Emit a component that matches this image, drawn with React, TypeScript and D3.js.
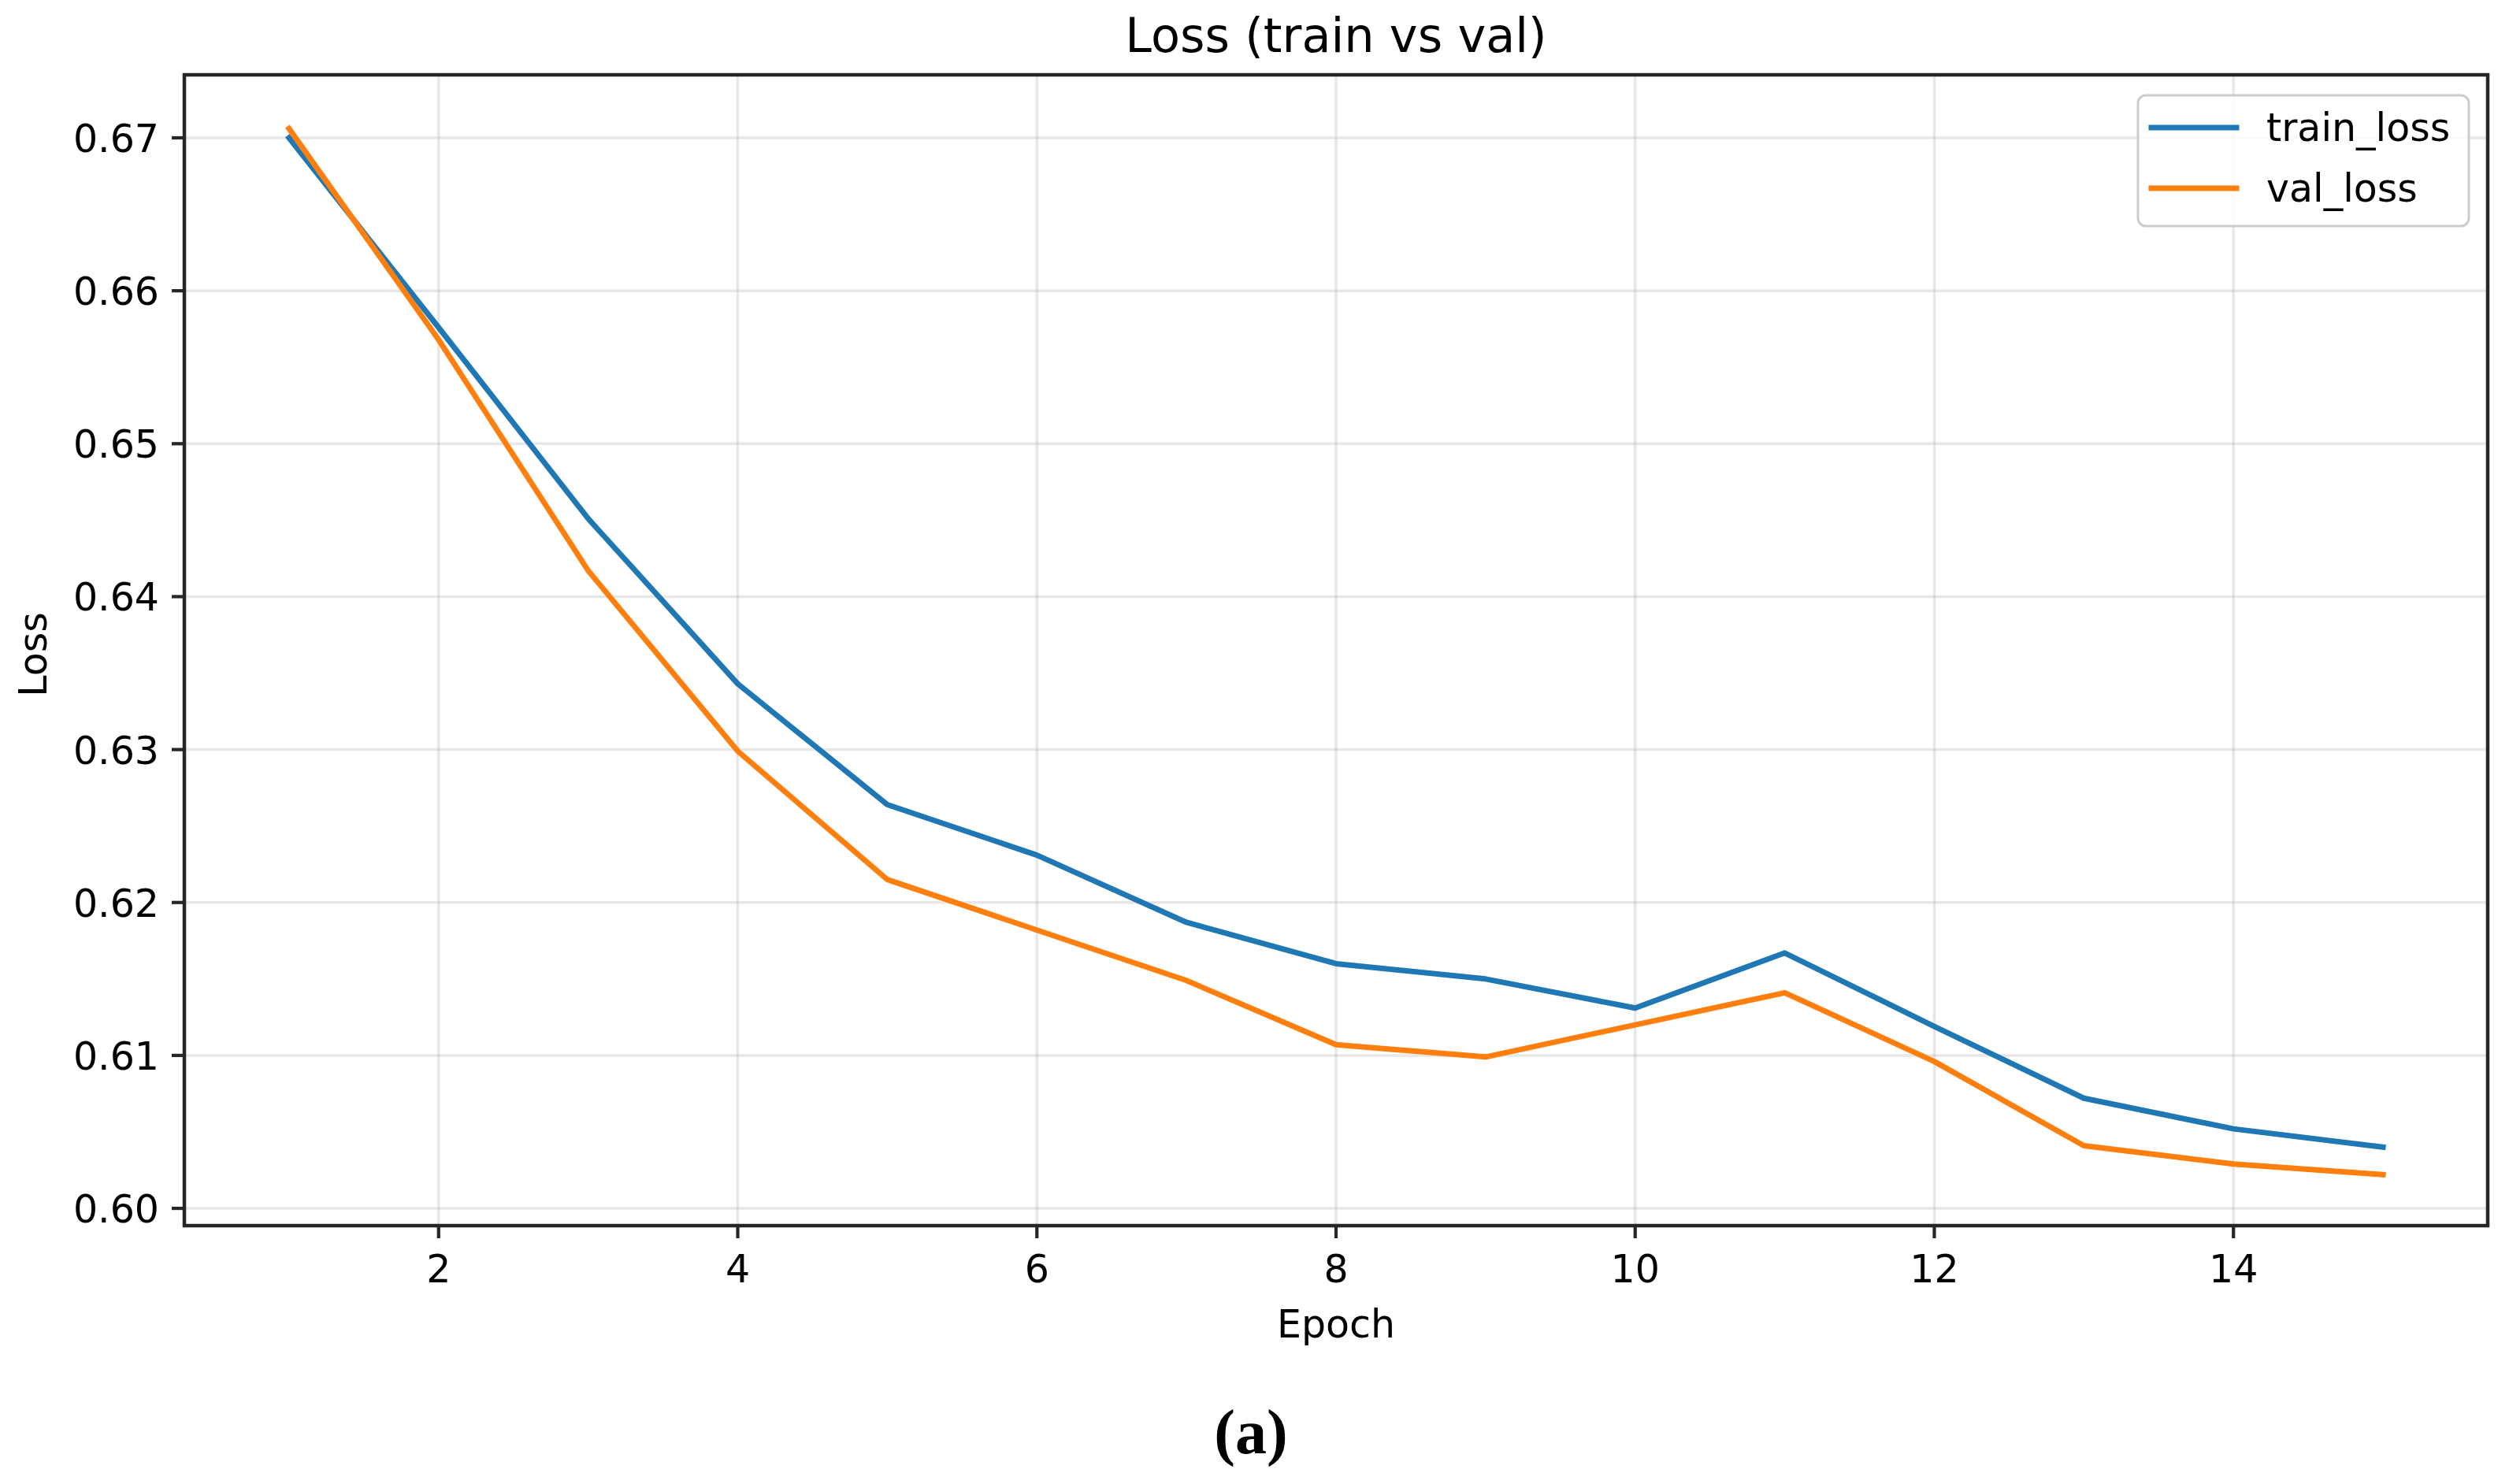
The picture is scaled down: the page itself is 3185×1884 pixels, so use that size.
import React from "react";
import * as d3 from "d3";

const epochs = [1, 2, 3, 4, 5, 6, 7, 8, 9, 10, 11, 12, 13, 14, 15];
const trainLoss = [0.6700, 0.6576, 0.6451, 0.6343, 0.6264, 0.6231, 0.6187, 0.6160, 0.6150, 0.6131, 0.6167, 0.6119, 0.6072, 0.6052, 0.6040];
const valLoss = [0.6706, 0.6568, 0.6417, 0.6299, 0.6215, 0.6182, 0.6149, 0.6107, 0.6099, 0.6120, 0.6141, 0.6096, 0.6041, 0.6029, 0.6022];
const xTicks = [2, 4, 6, 8, 10, 12, 14];
const yTicks = [0.60, 0.61, 0.62, 0.63, 0.64, 0.65, 0.66, 0.67];
const seriesNames = ["train_loss", "val_loss"];
const seriesColors = ["#1f77b4", "#ff7f0e"];
const titleText = "Loss (train vs val)";
const xLabel = "Epoch";
const yLabel = "Loss";
const caption = "(a)";

const W = 3185;
const H = 1884;
const left = 234, right = 3158, top = 95, bottom = 1556;
const FONT = "'DejaVu Sans', sans-serif";
const SPINE = "#262626";

export default function App() {
  const x = d3.scaleLinear().domain([0.3, 15.7]).range([left, right]);
  const y = d3.scaleLinear().domain([0.59887, 0.67412]).range([bottom, top]);
  const line = d3
    .line<[number, number]>()
    .x((d) => x(d[0]))
    .y((d) => y(d[1]));
  const series = [trainLoss, valLoss];
  const tickLen = 16;
  const legendX = 2714, legendY = 121, legendW = 420, legendH = 166;

  return (
    <svg
      width={W}
      height={H}
      viewBox={`0 0 ${W} ${H}`}
      style={{ position: "absolute", left: 0, top: 0, background: "#fff" }}
    >
      <rect x={0} y={0} width={W} height={H} fill="#fff" />
      {/* grid */}
      <g stroke="#b0b0b0" strokeOpacity={0.3} strokeWidth={3.5}>
        {xTicks.map((t) => (
          <line key={"gx" + t} x1={x(t)} x2={x(t)} y1={top} y2={bottom} />
        ))}
        {yTicks.map((t) => (
          <line key={"gy" + t} x1={left} x2={right} y1={y(t)} y2={y(t)} />
        ))}
      </g>
      {/* data lines */}
      {series.map((s, i) => (
        <path
          key={seriesNames[i]}
          d={line(epochs.map((e, j) => [e, s[j]] as [number, number])) || ""}
          fill="none"
          stroke={seriesColors[i]}
          strokeWidth={7}
          strokeLinejoin="round"
          strokeLinecap="square"
        />
      ))}
      {/* spines */}
      <rect
        x={left}
        y={top}
        width={right - left}
        height={bottom - top}
        fill="none"
        stroke={SPINE}
        strokeWidth={4.5}
      />
      {/* x ticks */}
      {xTicks.map((t) => (
        <g key={"xt" + t}>
          <line x1={x(t)} x2={x(t)} y1={bottom} y2={bottom + tickLen} stroke={SPINE} strokeWidth={4.2} />
          <text x={x(t)} y={1628} textAnchor="middle" fontFamily={FONT} fontSize={49} fill="#000">
            {t}
          </text>
        </g>
      ))}
      {/* y ticks */}
      {yTicks.map((t) => (
        <g key={"yt" + t}>
          <line x1={left - tickLen} x2={left} y1={y(t)} y2={y(t)} stroke={SPINE} strokeWidth={4.2} />
          <text x={202} y={y(t) + 18} textAnchor="end" fontFamily={FONT} fontSize={49} fill="#000">
            {d3.format(".2f")(t)}
          </text>
        </g>
      ))}
      {/* title */}
      <text x={(left + right) / 2} y={66} textAnchor="middle" fontFamily={FONT} fontSize={60.5} fill="#000">
        {titleText}
      </text>
      {/* axis labels */}
      <text x={(left + right) / 2} y={1698} textAnchor="middle" fontFamily={FONT} fontSize={49} fill="#000">
        {xLabel}
      </text>
      <text
        transform={`translate(59, 831) rotate(-90)`}
        textAnchor="middle"
        fontFamily={FONT}
        fontSize={49}
        fill="#000"
      >
        {yLabel}
      </text>
      {/* legend */}
      <rect
        x={legendX}
        y={legendY}
        width={legendW}
        height={legendH}
        rx={10}
        ry={10}
        fill="#fff"
        fillOpacity={0.8}
        stroke="#cccccc"
        strokeWidth={3}
      />
      {seriesNames.map((name, i) => {
        const ly = 162 + i * 77;
        return (
          <g key={"lg" + name}>
            <line x1={2731} x2={2839} y1={ly} y2={ly} stroke={seriesColors[i]} strokeWidth={7} strokeLinecap="square" />
            <text x={2877} y={ly + 17} fontFamily={FONT} fontSize={49} fill="#000">
              {name}
            </text>
          </g>
        );
      })}
      {/* caption */}
      <text
        x={1588}
        y={1845}
        textAnchor="middle"
        fontFamily="'Liberation Serif', 'Times New Roman', serif"
        fontWeight="bold"
        fontSize={80}
        fill="#000"
      >
        {caption}
      </text>
    </svg>
  );
}
